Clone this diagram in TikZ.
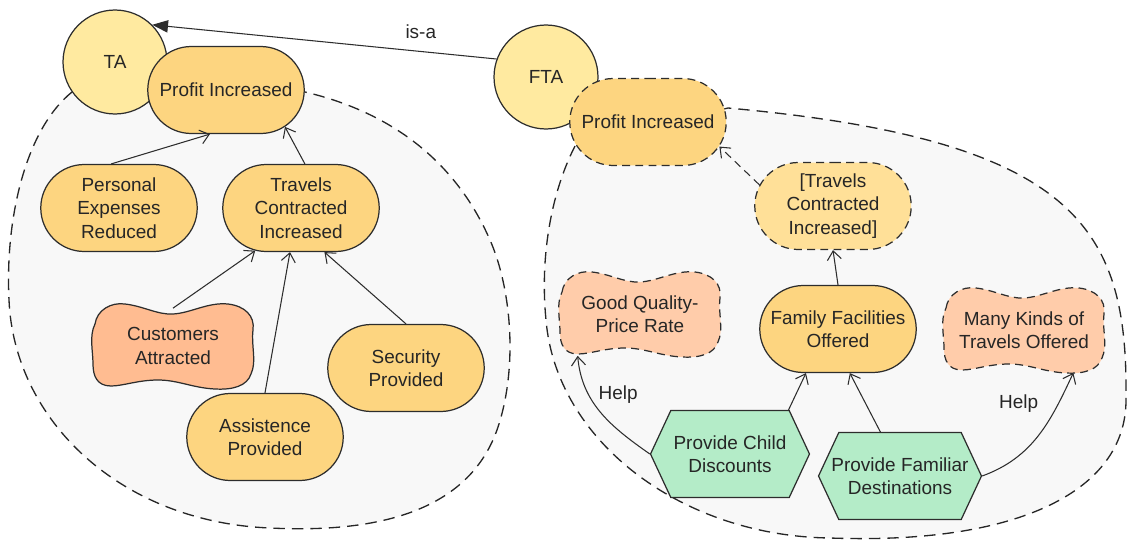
\documentclass[tikz,border=0pt]{standalone}
\usepackage{fontspec}
\setmainfont{Liberation Sans}
\usetikzlibrary{calc,arrows.meta,shapes.misc,shapes.symbols}
\definecolor{bgfill}{RGB}{248,248,248}
\definecolor{actorfill}{RGB}{255,234,160}
\definecolor{goalfill}{RGB}{253,213,128}
\definecolor{goalfilllt}{RGB}{255,224,152}
\definecolor{softfill}{RGB}{255,188,145}
\definecolor{softfilllt}{RGB}{255,204,170}
\definecolor{taskfill}{RGB}{180,236,200}
\definecolor{linegray}{RGB}{45,45,45}
% wavy softgoal outline round a centre (pixel units)
\def\wavy[#1](#2){\draw[#1,shift={(#2)}] (-78,-22) .. controls (-76,-36) and (-62,-44) .. (-48,-42) .. controls (-30,-40) and (-15,-31) .. (0,-32) .. controls (18,-33) and (35,-44) .. (55,-42) .. controls (72,-40) and (82,-30) .. (80,-16) .. controls (78,0) and (84,15) .. (78,28) .. controls (74,40) and (60,44) .. (42,43) .. controls (20,42) and (5,34) .. (-15,34) .. controls (-35,34) and (-50,40) .. (-62,40) .. controls (-76,40) and (-80,30) .. (-80,18) .. controls (-80,5) and (-84,-10) .. (-78,-22) -- cycle;}

\begin{document}
\begin{tikzpicture}[x=0.02cm,y=-0.02cm,font=\fontsize{10.8}{13.4}\selectfont,text=black!85,
	actor/.style={circle,draw=linegray,fill=actorfill,minimum size=2.08cm,inner sep=0pt,line width=0.7pt},
	goal/.style={rounded rectangle,draw=linegray,fill=goalfill,minimum width=3.2cm,minimum height=1.74cm,inner sep=1pt,align=center,line width=0.7pt},
	inherited/.style={dash pattern=on 4.5pt off 3pt},
	softtext/.style={rectangle,minimum width=3.2cm,minimum height=1.5cm,align=center},
	softshape/.style={draw=linegray,fill=softfill,line width=0.7pt},
	task/.style={signal,signal to=west and east,signal pointer angle=130,draw=linegray,fill=taskfill,minimum height=1.74cm,inner xsep=-6pt,align=center,line width=0.7pt},
	link/.style={draw=linegray,line width=0.6pt,-{Straight Barb[length=5pt,width=8pt]}},
	boundary/.style={draw=black!85,fill=bgfill,line width=0.75pt,dash pattern=on 6.5pt off 4pt}]
			%%%%% START %%%%%
			\useasboundingbox (0,0) rectangle (1129,541);
			
			% boundaries
			\draw[boundary] (72,92) .. controls (25,130) and (5,220) .. (9,300) .. controls (14,420) and (120,522) .. (270,528) .. controls (390,534) and (470,505) .. (497,430) .. controls (518,370) and (512,290) .. (490,240) .. controls (455,160) and (390,112) .. (305,92) -- cycle;
			\draw[boundary] (575,146) .. controls (550,195) and (540,260) .. (546,320) .. controls (556,440) and (680,536) .. (830,538) .. controls (1020,545) and (1126,490) .. (1126,400) .. controls (1128,230) and (1080,140) .. (728,108) -- cycle;
			
			% actors
			\node[actor] (ta) at (115,62) {TA};
			\node[actor] (fta) at (546,77) {FTA};
			
			% TA
			\node[goal] (tapi) at (226,90) {Profit Increased};
			\node[goal] (per) at (119,208) {Personal\\Expenses\\Reduced};
			\node[goal] (tci) at (301,208) {Travels\\Contracted\\Increased};
			\wavy[softshape](173,346)
			\node[softtext] (ca) at (173,346) {Customers\\Attracted};
			\node[goal] (sp) at (406,368) {Security\\Provided};
			\node[goal] (as) at (265,437) {Assistence\\Provided};
			
			% FTA
			\node[goal,inherited] (fpi) at (648,122) {Profit Increased};
			\node[goal,inherited,fill=goalfilllt] (tcid) at (833,206) {[Travels\\Contracted\\Increased]};
			\wavy[softshape,inherited,fill=softfilllt](640,314)
			\node[softtext] (gq) at (640,314) {Good Quality-\\Price Rate};
			\node[goal] (ffo) at (838,329) {Family Facilities\\Offered};
			\wavy[softshape,inherited,fill=softfilllt](1024,330)
			\node[softtext] (mk) at (1024,330) {Many Kinds of\\Travels Offered};
			\node[task,minimum width=3.18cm] (pcd) at (730,454) {Provide Child\\Discounts};
			\node[task,minimum width=3.26cm] (pfd) at (900,476) {Provide Familiar\\Destinations};
			
			% links
			\draw[line width=0.6pt,draw=linegray,-{Triangle[length=9pt,width=7pt]}] (fta.160) -- node[pos=0.22,above=0.12cm] (isa) {is-a} (ta.45);
			\draw[link] (per.100) -- (tapi.250);
			\draw[link] (tci.85) -- (tapi.-32);
			\draw[link] (ca.north) -- (tci.-137);
			\draw[link] (as.north) -- (tci.-104);
			\draw[link] (sp.north) -- (tci.-62);
			\draw[link,inherited] (tcid.164) -- (fpi.-19);
			\draw[link] (ffo.north) -- (tcid.south);
			\draw[link] (pcd.37) -- (ffo.-126);
			\draw[link] (pfd.114) -- (ffo.-75);
			\draw[link] (pcd.west) to[out=145,in=-85] node[pos=0.68,right=2pt] (helpa) {Help} ($(gq.south west)+(18,4)$);
			\draw[link] (pfd.east) to[out=20,in=-115] node[pos=0.78,left=8pt] (helpb) {Help} ($(mk.south east)+(-31,5)$);
			%%%%% END %%%%%
\end{tikzpicture}
\end{document}
